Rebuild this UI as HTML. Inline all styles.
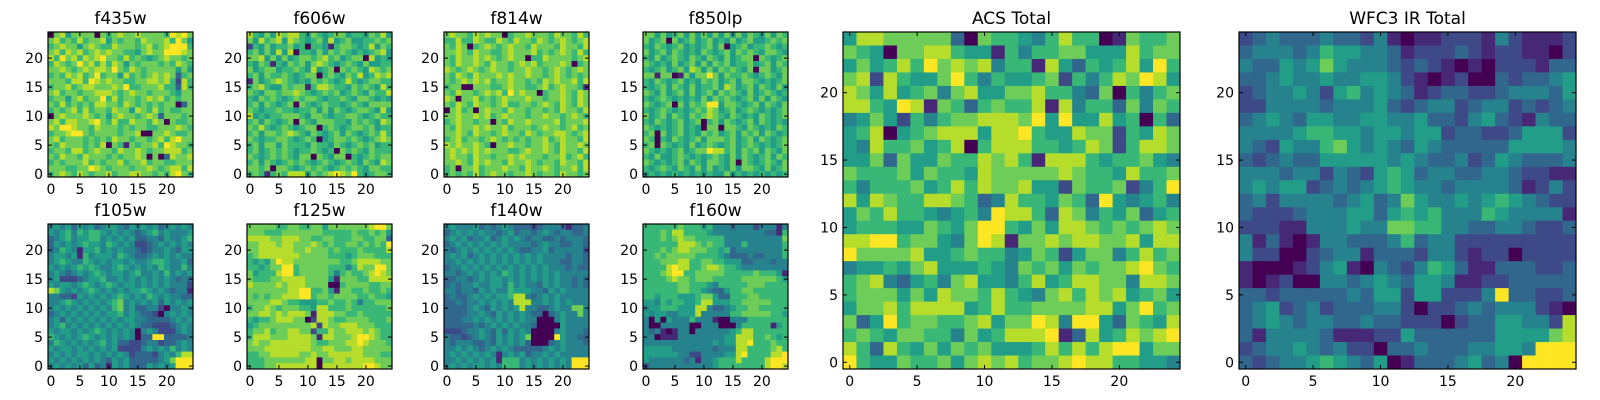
<!DOCTYPE html>
<html><head><meta charset="utf-8"><style>
html,body{margin:0;padding:0;background:#fff;}
svg{display:block;font-family:"DejaVu Sans","Liberation Sans",sans-serif;}
</style></head><body>
<svg id="fig" width="1600" height="400" viewBox="0 0 1600 400"></svg>
<script>
const panelNames = ["f435w","f606w","f814w","f850lp","f105w","f125w","f140w","f160w","ACS Total","WFC3 IR Total"];
const tickValues = [0,5,10,15,20];
const tickLabels = ["0","5","10","15","20"];
// each grid: rows top (24) to bottom (0), digits 0-9 on viridis scale
const f435w = ["0785777707678778777769897","7867686778576776877786975","6787757876687776786789996","7868786787877665787799987","8697868789776867656787767","6876797868687576777676876","7787678788797687677777575","6768786796775867678787367","7776886987877667788786286","6778678877787966777866386","7867767788876787767776577","6775786779686776787867677","7686767688776876767677037","6767868677687758768676677","0787778767578776787377767","7868877897686687768707667","8799877687776767766777876","6778997677776778007787667","7867776767687767767868977","7687776768076176778698776","6776886787768778767788867","7687768777676778707038778","6767778676778677867766777","7776677987677767787678868","6787687677867788776768976"];
const f606w = ["8657587886576567756657685","7586785876567585675566767","2657566756066516776568576","6757585806657576765656785","7785757567767867567708565","6576165767578765676575566","7567756676585670767658767","6757667656770676576856878","1756787656576765686567766","6786557677168876657676586","7657767787656767567657668","6576765676776566765776565","6757656707656766567657777","7656676656675757656776585","8565667776577656677656766","6757656707657776657676587","7686567656770676567767566","6757767876576567576567686","7656677656760567767656787","6757757666576657656767566","6756767656676560767657666","7656767657707657706567677","6757656767656765676576587","7767077656767656767657766","6761676888576789879656776"];
const f814w = ["7877687877067787776877686","6686687668768776876787678","7687067876787768777687768","7787687766787778676787686","7687787876787706687777678","7687787687767878677787067","8767876787767787767876787","7687687778787787767876767","7678787867787767687877868","6770077766787766786787761","7687767878697877067787687","8707786767877787767787687","7687687767866776787687687","0786707877687767767687768","7787787867877767787767876","6787767707687787777867778","7687787877867776787767867","7787687767877687677887678","6786776787676767786787768","8787787607787767787687787","7878787877766787787687768","7877687767787877767786786","7787687877687787677687768","6707786777877687787677868","6767686787767787677687767"];
const f850lp = ["7757567575757575757657576","7567075675675657567556767","6576567565675705675667656","7567576565765675767657765","6575676576576575677076567","7656575675757675667567576","6567567587575767657077567","7717701757797576676567657","6576567565767567577656567","6567576575667587567576575","7657567575675767657567656","6567656565757676567575765","7656707576799577656757657","6567656567687567567656567","7567576576787657656576567","6576567567067576567576565","7656567565077077657656576","6707567565767567576757656","7606576567577767567576567","6707656575676567567656567","7656567567798867576757657","6575567656567657576567576","7656567576577657076567657","6567657657575657577657567","5656565656565575656565656"];
const f105w = ["4545354534554354545345454","5456465665454543456454445","3456455664545453344354456","3545456554654542234545454","3465415564545443234454355","4554516455546543345454544","4565446545455454456654453","5454565654456545454654464","4543454565455456445464545","4522234556445454545454343","5455456545654554545454442","8754545654545455654543441","4433254545456545465454433","4456545454567454545354545","4545454545467453344204454","3454545454556454332045454","4535454545454554433334545","4564545454545454332223454","5455454565454540454222454","6545456545454540339933334","4654545456453322344233454","5455454545452222454546454","4545455454545423332454688","5454545454354533333457999","4545453534154533354545999"];
const f125w = ["7777766776677577777778997","7776667777777666667667675","8888778887766776667766773","7788878877787676677676769","7788888877877767666766668","6788888887777766656777666","6565798877777777667888877","6656779967777766646877997","7566689967777764676678987","7666778888777751777668888","8777787888777700677776677","7777777889966751776676676","7676778889967767777667665","7777887665556676676466777","6778767776658866676666667","7788787888718887766766666","6566788877028876677776667","5677777777782877888777666","6778677887726687788878766","6888777888871887778998766","7877888888876677788987776","7778888888877887778877777","6677888887787788888877766","6667777777880778878888777","6667788888880888888899877"];
const f140w = ["4544453434543332344431334","3454545443453443454344334","4545344534545434433434443","3454545454544443454433443","4345454545454334453444442","4545345454545454544443443","4454545454545454544433443","3445454545454545454443433","4434545454654545454544444","3344345455454545454544343","3434454455464544354544343","4434435454465554435454444","3433454545568843454544444","3343445454548884454545444","3333454354545844334544774","3333445435454543303454474","3334454545454544000454444","3333343454545443000054444","2223445435354540000454443","4332345435454570000954433","4344433435454530003454443","4454543454543333345454444","4545454541454534454544444","4454545451666454545454999","4545455454666454545454999"];
const f160w = ["6666667666564443444244414","6667688666654444444443316","6667678776666644444444447","6666668887676644464444446","6667678877766563444444446","6676777776666543334334446","6667778866776655533444344","6666898866788766544444444","6667899667777766666766651","6666787767776666677777765","6666667766654666667776666","6666667766543356677666666","6656665556775336667766666","5546566556885556677777666","4556665558843345667766666","5455445558444446677777665","4050544464441004446666666","4004444400444000466666156","4341014404444445688666666","4401114444444455888667656","4444444444445455889666766","5555544444443444886666786","5555554422444455896666889","5444444341445666866668999","2444444444445666666668998"];
const acsTotal = ["5887777730766546866017667","7650778865516466775558677","5756869787846618536568596","7828655796465567264687985","8758567478557786643706467","8865981763676681846637476","4575264677888795955856063","5680567888588965587726587","5486675680688866568726887","5573755766878618886566754","7666757665877777876658667","6466675686877855276672469","8587668876348665763954564","5768665456498863874657356","5666557657996575887676787","8899677547981778788778588","9777785567664576257746867","4556578555654767576778976","6784356478554685688774887","6777575877686547868785675","5778688885686677778857967","7359677667857798499537658","6765776647568889138568789","8638657576755568686899577","9655766757878677898866554"];
const wfc3Total = ["2343334332410112221421112","3444346554431222321221102","4335457544432321010222133","3345445445542101200323345","2344542564543123322344435","2244443444532344234423234","3454355445544533245321433","4444566554554552332235552","4325446754543543333355554","3234335555545433423543334","4443442432565344334432211","4545523434565443444431242","3424444345347544545654322","3222344455356564446544441","2221144454477664433443223","4131014433346344222222222","4220023441333244212202222","1000124510432465311333223","1012004434543554112233333","3323333343552552224933223","3452342333442022343444210","3454344334332220233554428","3144443111225333333555578","2344543422033433344554999","3234456543501333453409999"];
const grids = [f435w,f606w,f814w,f850lp,f105w,f125w,f140w,f160w,acsTotal,wfc3Total];

const VIR = ["#440154","#482475","#414487","#355f8d","#2a788e","#21918c","#22a884","#44bf70","#7ad151","#bddf26","#fde725"];
function hex(c){return [parseInt(c.slice(1,3),16),parseInt(c.slice(3,5),16),parseInt(c.slice(5,7),16)];}
function viridis(t){t=Math.max(0,Math.min(1,t));const p=t*10,i=Math.min(9,Math.floor(p)),f=p-i;const a=hex(VIR[i]),b=hex(VIR[i+1]);return "rgb("+a.map((v,k)=>Math.round(v+(b[k]-v)*f)).join(",")+")";}

const layout = [
 {x:48,y:32,s:145},{x:247,y:32,s:145},{x:444,y:32,s:145},{x:643,y:32,s:145},
 {x:48,y:224,s:145},{x:247,y:224,s:145},{x:444,y:224,s:145},{x:643,y:224,s:145},
 {x:843,y:32,s:337},{x:1239,y:32,s:337}
];
const NS="http://www.w3.org/2000/svg";
const svg=document.getElementById("fig");
function mk(tag,attrs,parent){const e=document.createElementNS(NS,tag);for(const k in attrs)e.setAttribute(k,attrs[k]);(parent||svg).appendChild(e);return e;}

grids.forEach((grid,gi)=>{
  const L=layout[gi];const n=25;const cw=L.s/n;
  const xs=c=>L.x+c*cw; const ys=r=>L.y+L.s-(r+1)*cw;
  const xc=c=>L.x+(c+0.5)*cw; const yc=r=>L.y+L.s-(r+0.5)*cw;
  const g=mk("g",{});
  
  
  for(let ri=0;ri<n;ri++){
    const row=grid[ri]||"";const r=n-1-ri;
    for(let c=0;c<n;c++){
      const d=parseInt(row.charAt(c)||"5");
      const rc=mk("rect",{x:xs(c).toFixed(2),y:ys(r).toFixed(2),width:(cw+0.4).toFixed(2),height:(cw+0.4).toFixed(2),fill:viridis(d/9)},g);
      
      
    }
  }
  const fr=mk("rect",{x:L.x,y:L.y,width:L.s,height:L.s,fill:"none",stroke:"#000","stroke-width":1.2},g);
  
  
  tickValues.forEach((v,ti)=>{
    const X=xc(v),Y=yc(v);
    [[X,L.y+L.s,X,L.y+L.s-4],[X,L.y,X,L.y+4],[L.x,Y,L.x+4,Y],[L.x+L.s,Y,L.x+L.s-4,Y]].forEach(p=>{
      const t=mk("line",{x1:p[0],y1:p[1],x2:p[2],y2:p[3],stroke:"#000","stroke-width":1},g);
      
      
    });
    const xl=mk("text",{x:X,y:L.y+L.s+17,"font-size":14,"text-anchor":"middle",fill:"#000"},g);
    xl.textContent=tickLabels[ti];
    
    
    const yl=mk("text",{x:L.x-5,y:Y+5,"font-size":14,"text-anchor":"end",fill:"#000"},g);
    yl.textContent=tickLabels[ti];
    
    
  });
  const tt=mk("text",{x:L.x+L.s/2,y:L.y-8,"font-size":17,"text-anchor":"middle",fill:"#000"},g);
  tt.textContent=panelNames[gi];
  
  
});
</script>
</body></html>
